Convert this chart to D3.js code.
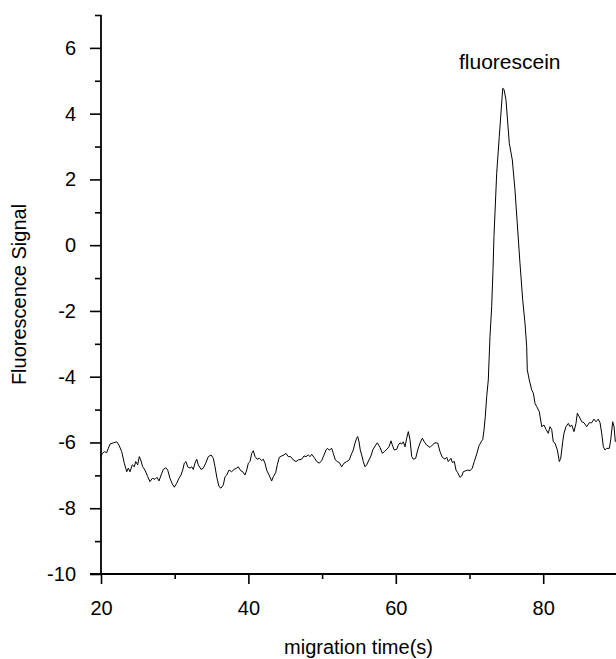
<!DOCTYPE html>
<html>
<head>
<meta charset="utf-8">
<script src="https://cdn.jsdelivr.net/npm/d3@7"></script>
<style>
  html, body { margin: 0; padding: 0; background: #fff; }
  svg { display: block; }
  text { font-family: "Liberation Sans", Arial, Helvetica, sans-serif; fill: #000; }
</style>
</head>
<body>
<div id="chart"></div>
<script>
// electropherogram trace
const migrationTime = [
  20.00, 20.18, 20.45, 20.77, 20.99, 21.22, 21.67, 22.13, 22.44, 22.81, 23.16, 23.49, 23.70, 23.93, 24.25,
  24.52, 24.71, 24.98, 25.20, 25.39, 25.66, 25.97, 26.34, 26.65, 26.96, 27.33, 27.60, 27.87, 28.24, 28.45,
  28.78, 29.05, 29.36, 29.67, 29.95, 30.27, 30.58, 30.85, 31.09, 31.30, 31.53, 31.76, 32.08, 32.31, 32.52,
  32.75, 32.99, 33.20, 33.57, 33.88, 34.21, 34.56, 34.93, 35.24, 35.47, 35.74, 36.01, 36.28, 36.60, 36.83,
  37.06, 37.37, 37.73, 38.05, 38.41, 38.63, 38.96, 39.23, 39.54, 39.77, 39.99, 40.22, 40.45, 40.67, 40.90,
  41.21, 41.48, 41.81, 42.02, 42.25, 42.48, 42.80, 43.16, 43.38, 43.70, 43.92, 44.19, 44.52, 44.83, 45.10,
  45.41, 45.74, 46.09, 46.46, 46.77, 47.23, 47.54, 47.82, 48.13, 48.36, 48.59, 48.90, 49.27, 49.62, 49.95,
  50.26, 50.53, 50.71, 50.98, 51.30, 51.52, 51.79, 52.06, 52.33, 52.66, 52.97, 53.34, 53.69,
  54.02, 54.23, 54.46, 54.69, 54.83, 55.01, 55.18, 55.37, 55.59, 55.82, 56.05, 56.36, 56.63, 56.87, 57.18,
  57.49, 57.86, 58.17, 58.44, 58.77, 59.08, 59.35, 59.53, 59.80, 60.12, 60.34, 60.57, 60.80, 61.02, 61.25,
  61.48, 61.70, 61.93, 62.16, 62.38, 62.70, 62.97, 63.28, 63.60, 63.87, 64.19, 64.64, 64.95, 65.32, 65.69,
  66.00, 66.31, 66.68, 66.91, 67.12, 67.49, 67.67, 67.94, 68.17, 68.40, 68.71, 68.94, 69.16, 69.48, 69.76,
  70.07, 70.38, 70.65, 70.98, 71.29, 71.66, 71.79, 71.97, 72.14, 72.33, 72.55, 72.78, 73.01, 73.19, 73.32,
  73.69, 74.04, 74.51, 74.68, 74.95, 75.40, 75.81, 76.17, 76.85, 77.22, 77.53, 77.76, 77.84, 78.11, 78.44,
  78.66, 78.89, 79.12, 79.47, 79.80, 80.11, 80.38, 80.69, 80.92, 81.15, 81.37, 81.60, 81.92, 82.19, 82.38,
  82.65, 82.82, 83.09, 83.41, 83.64, 83.87, 84.18, 84.45, 84.63, 84.90, 85.23, 85.54, 85.90, 86.26, 86.58,
  86.89, 87.16, 87.48, 87.71, 87.94, 88.16, 88.39, 88.62, 88.97, 89.16, 89.43, 89.61, 89.79
];

const fluorescence = [
  -6.43, -6.33, -6.28, -6.31, -6.18, -6.05, -6.01, -5.98, -6.08, -6.28, -6.63, -6.89, -6.78, -6.89, -6.68,
  -6.74, -6.58, -6.68, -6.43, -6.53, -6.74, -6.84, -7.04, -7.19, -7.09, -7.12, -7.06, -7.17, -6.94, -6.82,
  -6.77, -6.84, -7.09, -7.26, -7.36, -7.24, -7.09, -6.99, -6.84, -6.63, -6.58, -6.74, -6.78, -6.74, -6.82,
  -6.63, -6.51, -6.68, -6.82, -6.78, -6.63, -6.43, -6.38, -6.48, -6.74, -7.09, -7.34, -7.39, -7.29, -7.04,
  -6.99, -6.84, -6.89, -6.82, -6.78, -6.74, -6.86, -6.89, -6.99, -6.84, -6.63, -6.58, -6.33, -6.25, -6.43,
  -6.51, -6.48, -6.55, -6.51, -6.63, -6.84, -6.99, -7.17, -7.04, -6.92, -6.68, -6.45, -6.41, -6.38, -6.33,
  -6.43, -6.43, -6.53, -6.58, -6.53, -6.51, -6.41, -6.43, -6.38, -6.43, -6.36, -6.45, -6.58, -6.63, -6.55,
  -6.38, -6.23, -6.18, -6.23, -6.18, -6.33, -6.53, -6.58, -6.61, -6.74, -6.63, -6.58, -6.53,
  -6.33, -6.23, -6.02, -5.87, -5.82, -5.98, -6.23, -6.38, -6.58, -6.74, -6.68, -6.53, -6.41, -6.23, -6.11,
  -6.01, -6.15, -6.33, -6.28, -6.21, -6.13, -5.95, -6.08, -6.23, -6.21, -6.08, -6.01, -6.05, -5.98, -6.13,
  -5.87, -5.67, -5.92, -6.43, -6.51, -6.48, -6.23, -6.02, -5.87, -5.98, -6.08, -6.15, -6.08, -6.01, -6.02,
  -6.28, -6.45, -6.51, -6.45, -6.58, -6.48, -6.61, -6.58, -6.84, -6.92, -7.06, -7.02, -6.89, -6.86, -6.84,
  -6.86, -6.78, -6.58, -6.35, -6.10, -5.95, -5.92, -5.62, -5.22, -4.61, -4.10, -2.78, -1.87, -0.75, 0.26,
  2.19, 3.30, 4.77, 4.74, 4.42, 3.10, 2.59, 1.68, -0.55, -1.67, -2.37, -3.09, -3.79, -4.10, -4.40,
  -4.50, -4.81, -4.91, -5.06, -5.52, -5.47, -5.60, -5.72, -5.52, -5.60, -5.98, -6.02, -6.23, -6.58, -6.48,
  -5.98, -5.72, -5.52, -5.42, -5.52, -5.47, -5.67, -5.42, -5.11, -5.22, -5.37, -5.40, -5.52, -5.40, -5.40,
  -5.29, -5.37, -5.29, -5.40, -5.72, -6.13, -6.23, -6.18, -6.18, -5.92, -5.37, -5.52, -5.98
];

const xMajorTicks = [20, 40, 60, 80];
const xMinorTicks = [30, 50, 70, 90];
const yMajorTicks = [-10, -8, -6, -4, -2, 0, 2, 4, 6];
const yMinorTicks = [-9, -7, -5, -3, -1, 1, 3, 5, 7];
const peakLabel = "fluorescein";

const width = 616;
const height = 659;
const margin = { top: 15, right: 0, bottom: 85, left: 101 };

const svg = d3.select("#chart")
  .append("svg")
  .attr("width", width)
  .attr("height", height);

const x = d3.scaleLinear().domain([20, 90]).range([margin.left, margin.left + 70 * 7.37]);
const y = d3.scaleLinear().domain([-10, 7]).range([height - margin.bottom, margin.top]);

const points = d3.zip(migrationTime, fluorescence);

// axes: major ticks with labels, minor ticks without
const xAxisG = svg.append("g").attr("transform", `translate(0,${y(-10)})`);
xAxisG.append("g")
  .call(d3.axisBottom(x).tickValues(xMajorTicks).tickSize(10).tickPadding(17).tickFormat(d3.format("d")));
xAxisG.append("g")
  .call(d3.axisBottom(x).tickValues(xMinorTicks).tickSize(5).tickFormat(""));

const yAxisG = svg.append("g").attr("transform", `translate(${x(20)},0)`);
yAxisG.append("g")
  .call(d3.axisLeft(y).tickValues(yMajorTicks).tickSize(11).tickPadding(14).tickFormat(d => d));
yAxisG.append("g")
  .call(d3.axisLeft(y).tickValues(yMinorTicks).tickSize(6).tickFormat(""));

svg.selectAll(".domain").remove();
svg.selectAll(".tick line").attr("stroke", "#000").attr("stroke-width", 1.6);
svg.selectAll(".tick text").style("font-size", "20px").attr("fill", "#000");

svg.append("line")
  .attr("x1", x(20) - 11).attr("x2", width)
  .attr("y1", y(-10)).attr("y2", y(-10))
  .attr("stroke", "#000").attr("stroke-width", 1.8);
svg.append("line")
  .attr("x1", x(20)).attr("x2", x(20))
  .attr("y1", y(7)).attr("y2", y(-10))
  .attr("stroke", "#000").attr("stroke-width", 1.8);

// trace
const line = d3.line().x(d => x(d[0])).y(d => y(d[1]));
svg.append("path")
  .datum(points)
  .attr("fill", "none")
  .attr("stroke", "#000")
  .attr("stroke-width", 1)
  .attr("stroke-linejoin", "round")
  .attr("d", line);

// peak annotation
const peak = points.reduce((a, b) => (b[1] > a[1] ? b : a));
svg.append("text")
  .attr("x", x(peak[0]) + 7)
  .attr("y", y(peak[1]) - 19)
  .attr("text-anchor", "middle")
  .style("font-size", "21px")
  .text(peakLabel);

// axis titles
svg.append("text")
  .attr("x", (x(20) + width) / 2)
  .attr("y", 654)
  .attr("text-anchor", "middle")
  .style("font-size", "20px")
  .text("migration time(s)");

svg.append("text")
  .attr("transform", `translate(26,${(y(7) + y(-10)) / 2}) rotate(-90)`)
  .attr("text-anchor", "middle")
  .style("font-size", "20px")
  .text("Fluorescence Signal");
</script>
</body>
</html>
